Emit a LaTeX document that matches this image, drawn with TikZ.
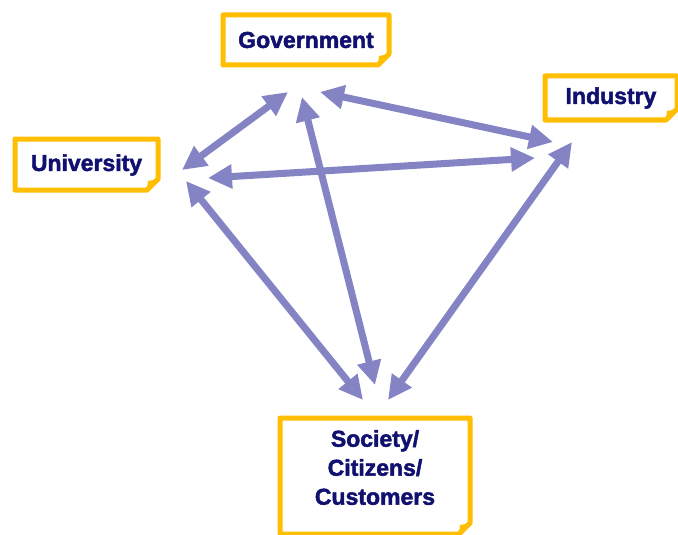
\documentclass[tikz,border=0pt]{standalone}
\usepackage{fontspec}
\setmainfont{Liberation Sans}
\newfontfamily\heavyfont{Liberation Sans Bold}[FakeBold=2]
\usetikzlibrary{arrows.meta}
\definecolor{boxc}{RGB}{255,190,0}
\definecolor{arrc}{RGB}{132,132,196}
\definecolor{txtc}{RGB}{16,16,112}
\pgfdeclarelayer{bg}
\pgfsetlayers{bg,main}
\newcommand\foldbox[4]{%
 \draw[boxline] ([shift={(-#2,-#3)}]#1.center) -- ([shift={(#2,-#3)}]#1.center)
   -- ([shift={(#2,#4-11)}]#1.center) -- ([shift={(#2-11,#4)}]#1.center)
   -- ([shift={(-#2,#4)}]#1.center) -- cycle;
 \fill[boxc] ([shift={(#2,#4-11)}]#1.center) -- ([shift={(#2-11,#4)}]#1.center)
   -- ([shift={(#2-10,#4-9)}]#1.center) -- cycle;}
\begin{document}
\begin{tikzpicture}[x=1pt,y=-1pt,
  boxline/.style={draw=boxc,line width=5pt,line join=round,fill=white},
  lbl/.style={font=\fontsize{23}{29}\selectfont\heavyfont,text=txtc,align=center,inner sep=0pt},
  arr/.style={draw=arrc,line width=7pt,{Triangle[length=24pt,width=23pt]}-{Triangle[length=24pt,width=23pt]}}]
\useasboundingbox (0,0) rectangle (678,535);
\clip (0,0) rectangle (678,535);
% nodes
\node[lbl] (g) at (306,40) {Government};
\node[lbl] (i) at (611,98) {Industry};
\node[lbl] (u) at (86.5,165) {University};
\node[lbl] (s) at (375,467.5) {Society/\\Citizens/\\Customers};
% boxes behind the text
\begin{pgfonlayer}{bg}
\fill[white] (0,0) rectangle (678,535);
\foldbox{g}{83}{25}{25}
\foldbox{i}{66}{22}{22}
\foldbox{u}{71.5}{26}{25}
\foldbox{s}{95}{49.5}{66.5}
\end{pgfonlayer}
% connector end points
\coordinate (gu1) at (288,92);  \coordinate (gu2) at (182,170);
\coordinate (gi1) at (320,92);  \coordinate (gi2) at (553,142);
\coordinate (ui1) at (208,178); \coordinate (ui2) at (535,158);
\coordinate (gs1) at (302,97);  \coordinate (gs2) at (375,385);
\coordinate (us1) at (186,181); \coordinate (us2) at (363,400);
\coordinate (is1) at (572,142); \coordinate (is2) at (388,400);
\draw[arr] (gu1) -- (gu2);
\draw[arr] (gi1) -- (gi2);
\draw[arr] (ui1) -- (ui2);
\draw[arr] (gs1) -- (gs2);
\draw[arr] (us1) -- (us2);
\draw[arr] (is1) -- (is2);
\end{tikzpicture}
\end{document}
